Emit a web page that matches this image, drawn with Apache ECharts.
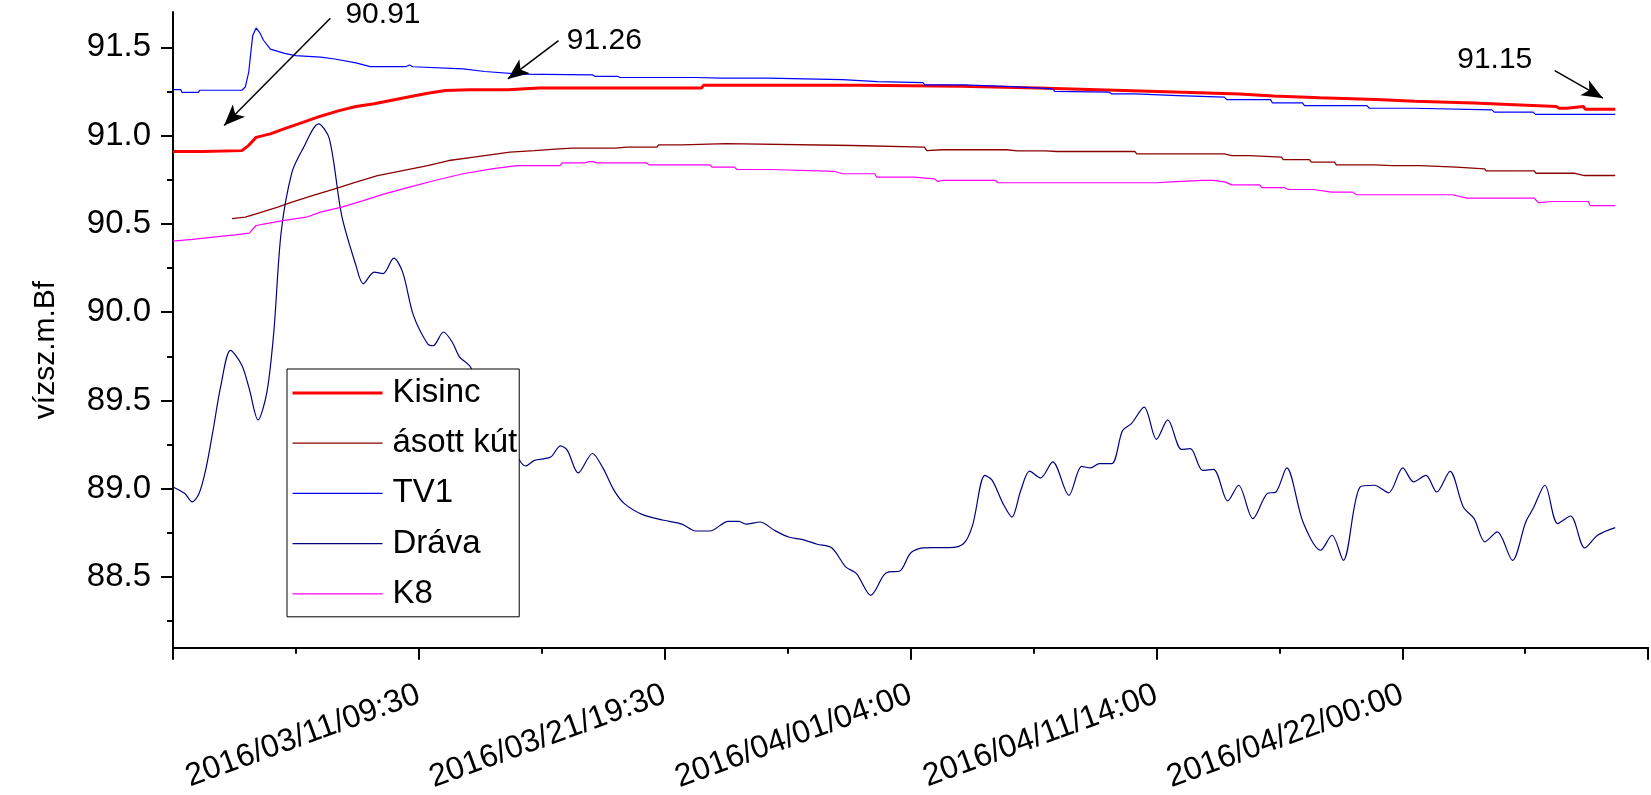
<!DOCTYPE html>
<html>
<head>
<meta charset="utf-8">
<script src="https://cdn.jsdelivr.net/npm/echarts@6/dist/echarts.min.js"></script>
<style>
  html, body { margin: 0; padding: 0; background: #fff; }
  #chart { width: 1651px; height: 795px; }
</style>
</head>
<body>
<div id="chart"></div>
<script>
// x values are hours counted from 2016/03/01 07:30, one labelled tick every 250 h
const xTickStep = 250;
const xMax = 1500;
const xTickLabels = ['', '2016/03/11/09:30', '2016/03/21/19:30', '2016/04/01/04:00', '2016/04/11/14:00', '2016/04/22/00:00', ''];

const yMin = 88.1;
const yMax = 91.7;
const yMajorTicks = [88.5, 89.0, 89.5, 90.0, 90.5, 91.0, 91.5];
const yMinorTicks = [88.25, 88.75, 89.25, 89.75, 90.25, 90.75, 91.25];
const yTitle = 'vízsz.m.Bf';

const seriesNames = ['Kisinc', 'ásott kút', 'TV1', 'Dráva', 'K8'];
const seriesColors = ['#ff0000', '#8b0000', '#0000ff', '#000080', '#ff00ff'];
const seriesWidths = [3, 1.3, 1.2, 1.2, 1.2];

// [hour, water level]
const kisinc = [[0,90.91],[30,90.91],[32,90.915],[70,90.915],[77,90.945],[84.5,90.99],[99,91.01],[113.5,91.04],[132,91.075],[150,91.11],[168,91.14],[186,91.165],[204.5,91.18],[222.5,91.2],[240.5,91.22],[259,91.24],[277,91.255],[302,91.26],[340.5,91.26],[372,91.27],[537.5,91.27],[539.5,91.285],[698,91.285],[700,91.28],[801,91.28],[803,91.27],[879,91.27],[881,91.26],[966.5,91.255],[968.5,91.245],[1026.5,91.245],[1028.5,91.235],[1084.5,91.235],[1086.5,91.225],[1119,91.225],[1121,91.215],[1166,91.215],[1168,91.205],[1223.5,91.205],[1225.5,91.195],[1262.5,91.195],[1264.5,91.185],[1322.5,91.185],[1324.5,91.175],[1364,91.175],[1366,91.165],[1406.5,91.165],[1409.5,91.155],[1417,91.155],[1419,91.165],[1434,91.165],[1436,91.15],[1466.5,91.15]];

const asottKut = [[60,90.53],[73.5,90.538],[84.5,90.557],[106.5,90.595],[121,90.623],[142.5,90.661],[164.5,90.699],[186,90.736],[208,90.774],[233.5,90.802],[259,90.83],[280.5,90.859],[306,90.878],[342.5,90.906],[367.5,90.915],[392.5,90.925],[406.5,90.929],[450.5,90.929],[461,90.935],[492,90.935],[494,90.948],[517.5,90.948],[519.5,90.955],[562.5,90.955],[564,90.944],[691,90.944],[693,90.935],[764,90.935],[766.5,90.915],[782,90.92],[847.5,90.92],[858.5,90.914],[887.5,90.914],[898.5,90.91],[978,90.91],[980,90.897],[1069,90.897],[1076.5,90.887],[1094.5,90.887],[1095.5,90.878],[1127,90.878],[1129,90.864],[1155.5,90.864],[1157.5,90.85],[1181,90.85],[1183,90.834],[1221.5,90.834],[1239.5,90.83],[1268.5,90.83],[1270.5,90.821],[1305,90.821],[1307,90.812],[1333.5,90.812],[1335.5,90.8],[1384,90.8],[1386,90.787],[1424.5,90.787],[1435,90.774],[1466.5,90.774]];

const tv1 = [[0,91.26],[8,91.26],[9,91.245],[26,91.245],[27,91.257],[70,91.257],[73.5,91.275],[77,91.36],[81,91.565],[84.5,91.61],[88,91.585],[92,91.54],[99,91.49],[113.5,91.466],[124.5,91.453],[150,91.444],[164.5,91.434],[186,91.412],[200.5,91.391],[237,91.391],[240.5,91.4],[244,91.39],[295,91.378],[317,91.363],[353,91.348],[426.5,91.344],[429,91.336],[452,91.336],[454.5,91.329],[531.5,91.329],[557,91.325],[604.5,91.325],[606,91.317],[680.5,91.317],[682,91.306],[716.5,91.306],[718.5,91.3],[762.5,91.3],[764.5,91.287],[804,91.287],[806,91.276],[858.5,91.276],[860,91.265],[894.5,91.265],[896.5,91.25],[952,91.246],[954.5,91.236],[978,91.236],[980,91.227],[1021.5,91.227],[1023.5,91.218],[1069,91.218],[1071.5,91.204],[1116,91.204],[1118,91.185],[1148.5,91.185],[1150.5,91.17],[1214,91.17],[1216.5,91.155],[1261.5,91.155],[1263.5,91.146],[1341,91.146],[1343.5,91.133],[1383,91.133],[1385.5,91.12],[1466.5,91.12]];

const drava = [[0,89.01],[12,88.973],[19.5,88.926],[26.5,88.973],[33.5,89.114],[41,89.34],[48.5,89.58],[58.5,89.784],[70,89.7],[77.5,89.567],[86.5,89.39],[95.5,89.548],[102.5,89.888],[110,90.454],[121,90.793],[132,90.925],[148,91.066],[159,90.982],[171.5,90.548],[186,90.265],[193.5,90.161],[204.5,90.227],[213.5,90.218],[224.5,90.306],[233.5,90.227],[244.5,89.982],[259,89.82],[264.5,89.81],[275,89.888],[284,89.83],[291.5,89.746],[302.5,89.69],[351.5,89.17],[358.5,89.129],[367.5,89.161],[384,89.18],[394,89.243],[401,89.218],[412,89.09],[426.5,89.2],[437.5,89.114],[448.5,88.991],[459,88.916],[477.5,88.854],[499,88.822],[517.5,88.8],[531.5,88.761],[546,88.761],[564.5,88.816],[575.5,88.816],[582.5,88.8],[597,88.812],[611.5,88.765],[626,88.727],[640.5,88.712],[655,88.686],[670,88.665],[684,88.558],[695,88.52],[709.5,88.397],[722.5,88.51],[728,88.53],[738.5,88.533],[749.5,88.633],[758.5,88.661],[771.5,88.667],[789.5,88.667],[804,88.69],[813,88.793],[825.5,89.076],[833,89.048],[844,88.916],[853,88.84],[862,88.99],[871,89.1],[882,89.061],[894.5,89.152],[911,88.963],[924,89.127],[933,89.118],[942,89.142],[954.5,89.142],[965.5,89.33],[974.5,89.369],[987.5,89.463],[1000,89.28],[1011.5,89.39],[1025.5,89.223],[1034.5,89.227],[1047,89.104],[1058,89.11],[1072.5,88.931],[1083.5,89.02],[1098,88.831],[1112.5,88.973],[1121.5,88.982],[1132.5,89.118],[1149,88.812],[1167,88.652],[1178.5,88.737],[1190,88.595],[1207,89.01],[1221.5,89.02],[1236,88.977],[1250.5,89.118],[1261.5,89.039],[1274,89.076],[1285,88.982],[1298.5,89.099],[1312,88.897],[1323,88.831],[1334,88.7],[1346.5,88.756],[1362,88.595],[1375.5,88.812],[1383,88.888],[1395,89.02],[1408,88.803],[1421,88.846],[1435.5,88.665],[1448.5,88.737],[1466.5,88.78]];

const k8 = [[0,90.403],[19.5,90.412],[41,90.425],[63,90.438],[77.5,90.448],[84.5,90.491],[99,90.506],[113.5,90.52],[135.5,90.538],[150,90.567],[171.5,90.595],[193.5,90.632],[215,90.67],[240.5,90.708],[266,90.746],[295,90.784],[324,90.812],[349.5,90.83],[393.5,90.83],[395.5,90.846],[418.5,90.846],[423,90.853],[427,90.853],[431,90.846],[481,90.846],[484.5,90.834],[546,90.834],[548,90.821],[571,90.821],[573.5,90.808],[608,90.808],[610,90.797],[673,90.797],[680.5,90.784],[713.5,90.784],[715.5,90.765],[753,90.765],[755,90.755],[774.5,90.755],[777.5,90.74],[782,90.746],[836.5,90.746],[838.5,90.734],[1000,90.733],[1014.5,90.738],[1047,90.746],[1058,90.746],[1069.5,90.738],[1076.5,90.721],[1105,90.721],[1107,90.706],[1130,90.706],[1134,90.695],[1159.5,90.695],[1178,90.68],[1199.5,90.68],[1203.5,90.665],[1301,90.665],[1315.5,90.646],[1384,90.646],[1388.5,90.62],[1402.5,90.627],[1439,90.627],[1441,90.604],[1466.5,90.604]];

// Kisinc readings called out with arrows: which point, where the text sits, where the arrow runs
const noteHours = [0, 340.5, 1466.5];
const noteTextAt = [[213.5, 91.683], [438.6, 91.539], [1344, 91.429]];
const noteArrowFrom = [[160, 91.665], [392, 91.538], [1405, 91.368]];
const noteArrowTo = [[52, 91.057], [340.5, 91.321], [1454, 91.212]];

const FONT = '"Liberation Sans", Arial, Helvetica, sans-serif';
const chart = echarts.init(document.getElementById('chart'), null, { renderer: 'canvas' });

const noteValues = noteHours.map(h => kisinc.find(p => p[0] === h)[1].toFixed(2));

const lineSeries = (i, data, extra) => Object.assign({
  name: seriesNames[i],
  type: 'line',
  data: data,
  symbol: 'none',
  showSymbol: false,
  smooth: false,
  lineStyle: { color: seriesColors[i], width: seriesWidths[i] },
  itemStyle: { color: seriesColors[i] },
  emphasis: { disabled: true },
  animation: false
}, extra || {});

const option = {
  backgroundColor: '#fff',
  animation: false,
  textStyle: { fontFamily: FONT },
  grid: { left: 173, right: 2, top: 12, bottom: 145, containLabel: false },
  xAxis: {
    type: 'value',
    min: 0,
    max: xMax,
    interval: xTickStep,
    axisLine: { show: true, onZero: false, lineStyle: { color: '#000', width: 2 } },
    axisTick: { show: true, length: 12, lineStyle: { color: '#000', width: 2 } },
    minorTick: { show: true, splitNumber: 2, length: 6, lineStyle: { color: '#000', width: 2 } },
    splitLine: { show: false },
    minorSplitLine: { show: false },
    axisLabel: {
      rotate: 20,
      margin: 46,
      fontSize: 32,
      color: '#000',
      fontFamily: FONT,
      hideOverlap: false,
      formatter: v => xTickLabels[Math.round(v / xTickStep)] || ''
    }
  },
  yAxis: [
    {
      type: 'value',
      min: yMin,
      max: yMax,
      position: 'left',
      axisLine: { show: true, onZero: false, lineStyle: { color: '#000', width: 2 } },
      axisTick: { show: true, customValues: yMajorTicks, length: 12, lineStyle: { color: '#000', width: 2 } },
      axisLabel: {
        customValues: yMajorTicks,
        formatter: v => v.toFixed(1),
        fontSize: 33,
        margin: 22,
        color: '#000',
        fontFamily: FONT
      },
      splitLine: { show: false }
    },
    {
      type: 'value',
      min: yMin,
      max: yMax,
      position: 'left',
      axisLine: { show: false },
      axisTick: { show: true, customValues: yMinorTicks, length: 6, lineStyle: { color: '#000', width: 2 } },
      axisLabel: { show: false },
      splitLine: { show: false }
    }
  ],
  legend: {
    orient: 'vertical',
    left: 287,
    top: 369,
    padding: [4, 2, 3, 4],
    itemGap: 10.2,
    itemWidth: 90,
    itemHeight: 14,
    backgroundColor: '#fff',
    borderColor: '#000',
    borderWidth: 1,
    borderRadius: 0,
    selectedMode: false,
    itemStyle: { opacity: 0 },
    data: seriesNames.map((n, i) => ({
      name: n,
      lineStyle: { width: seriesWidths[i], color: seriesColors[i] }
    })),
    textStyle: {
      fontSize: 33,
      lineHeight: 40,
      color: '#000',
      fontFamily: FONT,
      padding: [0, 0, 0, 5]
    }
  },
  graphic: [
    {
      type: 'text',
      x: 46,
      y: 350,
      rotation: Math.PI / 2,
      style: {
        text: yTitle,
        fontSize: 30,
        fontFamily: FONT,
        fill: '#000',
        textAlign: 'center',
        textVerticalAlign: 'middle'
      }
    }
  ],
  series: [
    lineSeries(0, kisinc, {
      markLine: {
        silent: true,
        animation: false,
        symbol: ['none', 'arrow'],
        symbolSize: [13, 21],
        label: { show: false },
        lineStyle: { color: '#000', width: 1.5, type: 'solid' },
        emphasis: { disabled: true },
        data: noteArrowFrom.map((from, i) => [
          { coord: from },
          { coord: noteArrowTo[i] }
        ])
      },
      markPoint: {
        silent: true,
        animation: false,
        symbol: 'circle',
        symbolSize: 0,
        itemStyle: { color: 'rgba(0,0,0,0)' },
        label: {
          show: true,
          position: 'inside',
          color: '#000',
          fontSize: 30,
          fontFamily: FONT,
          formatter: p => p.name
        },
        emphasis: { disabled: true },
        data: noteTextAt.map((c, i) => ({ name: noteValues[i], coord: c }))
      }
    }),
    lineSeries(1, asottKut),
    lineSeries(2, tv1),
    lineSeries(3, drava, { smooth: 0.3 }),
    lineSeries(4, k8)
  ]
};

chart.setOption(option);
</script>
</body>
</html>
